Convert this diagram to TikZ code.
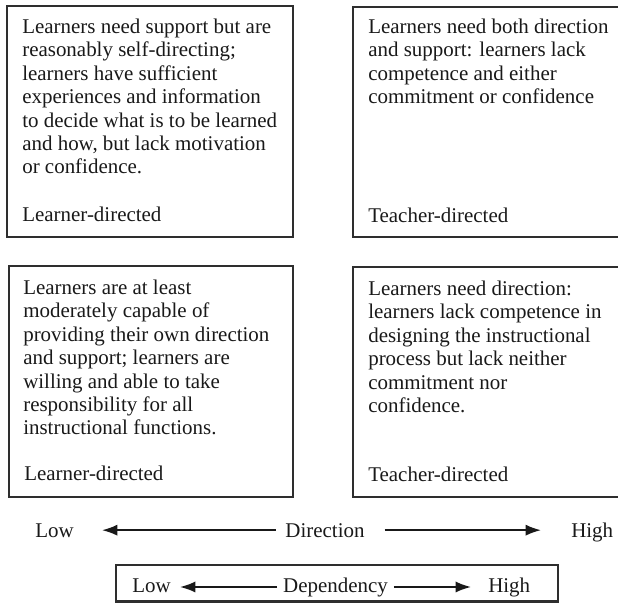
\documentclass[tikz,border=0pt]{standalone}
\usepackage{fontspec}
\setmainfont{Liberation Serif}
\usepackage{tikz}
\usetikzlibrary{arrows.meta}
\usetikzlibrary{fit}
\definecolor{boxcolor}{HTML}{2E2E2E}

\begin{document}
\begin{tikzpicture}[x=0.025cm,y=-0.025cm,
    every node/.style={font=\fontsize{14.9}{16.64}\selectfont, text=black!90, inner sep=0pt},
    quad/.style={draw=boxcolor, line width=1.5pt},
    blurb/.style={anchor=north west, align=left},
    tag/.style={anchor=base west},
    axlabel/.style={anchor=base, inner sep=4pt},
    axis/.style={black!90, line width=1.3pt, -{Latex[length=11pt,width=8pt]}}]
\useasboundingbox (0,0) rectangle (618,603);
% the four quadrants
\node (ql) [quad, fit={(7,6) (293,237)}] {};
\node (qr) [quad, fit={(353,7) (622,237)}] {};
\node (bl) [quad, fit={(9,266) (293,497)}] {};
\node (br) [quad, fit={(353,267) (622,497)}] {};
\node (qltext) [blurb] at (22,18.7) {Learners need support but are\\reasonably self-directing;\\learners have sufficient\\experiences and information\\to decide what is to be learned\\and how, but lack motivation\\or confidence.};
\node (qrtext) [blurb] at (368,18.7) {Learners need both direction\\and support: learners lack\\competence and either\\commitment or confidence};
\node (bltext) [blurb] at (23,279.7) {Learners are at least\\moderately capable of\\providing their own direction\\and support; learners are\\willing and able to take\\responsibility for all\\instructional functions.};
\node (brtext) [blurb] at (368,280.7) {Learners need direction:\\learners lack competence in\\designing the instructional\\process but lack neither\\commitment nor\\confidence.};
\node (qltag) [tag] at (22,222) {Learner-directed};
\node (qrtag) [tag] at (368,222.5) {Teacher-directed};
\node (bltag) [tag] at (24,480) {Learner-directed};
\node (brtag) [tag] at (368,481.5) {Teacher-directed};
% direction axis
\node (dirlow) [tag] at (35,537) {Low};
\node (dir) [axlabel] at (325,537) {Direction};
\node (dirhigh) [tag] at (571,537) {High};
\coordinate (dirl) at (102,528);
\coordinate (dirr) at (541,528);
\draw [axis, shorten <=2.8pt] (dir.west) -- (dir.west -| dirl);
\draw [axis, shorten <=10pt] (dir.east) -- (dir.east -| dirr);
% dependency scale
\node (dep) [quad, fit={(116,565) (558,601.5)}] {};
\node (deplow) [tag] at (132,592) {Low};
\node (deptext) [axlabel] at (335.5,592) {Dependency};
\node (dephigh) [tag] at (488,592) {High};
\coordinate (depl) at (180,589);
\coordinate (depr) at (471,589);
\draw [axis] (deptext.west) -- (deptext.west -| depl);
\draw [axis] (deptext.east) -- (deptext.east -| depr);
\end{tikzpicture}
\end{document}
